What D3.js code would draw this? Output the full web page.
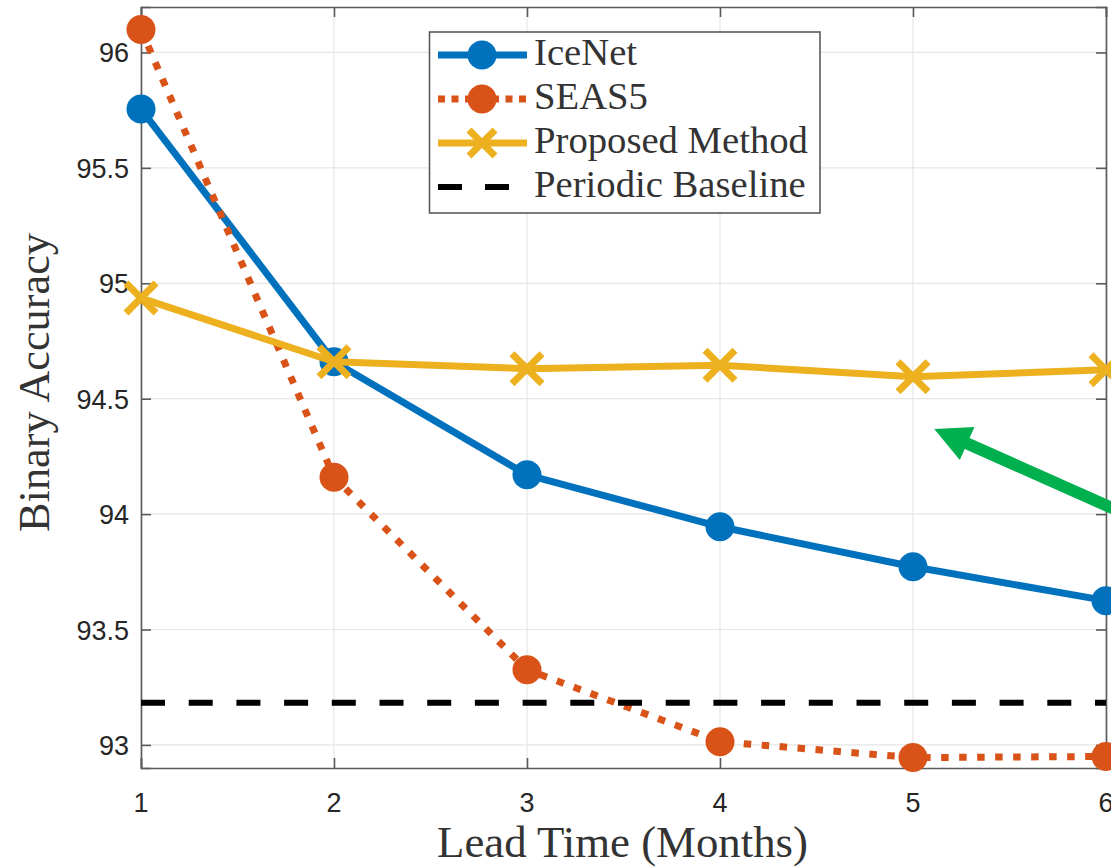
<!DOCTYPE html>
<html>
<head>
<meta charset="utf-8">
<script src="https://cdn.jsdelivr.net/npm/d3@7"></script>
<style>
  html, body { margin: 0; padding: 0; background: #fff; }
  svg { display: block; }
</style>
</head>
<body>
<svg id="chart" width="1111" height="868"></svg>
<script>
// ---------------- data ----------------
const leadTimes = [1, 2, 3, 4, 5, 6];
const iceNet   = [95.755, 94.66, 94.17, 93.945, 93.772, 93.625];
const seas5    = [96.10, 94.16, 93.326, 93.014, 92.945, 92.95];
const proposed = [94.936, 94.66, 94.63, 94.645, 94.595, 94.625];
const periodicBaseline = 93.183;
const xTicks = [1, 2, 3, 4, 5, 6];
const yTicks = [93, 93.5, 94, 94.5, 95, 95.5, 96];
const seriesNames = ["IceNet", "SEAS5", "Proposed Method", "Periodic Baseline"];
const xLabel = "Lead Time (Months)";
const yLabel = "Binary Accuracy";
// annotation arrow in data coordinates: [tail, tip]
const arrowTail = [6.13, 93.99];
const arrowTip  = [5.11, 94.369];

// ---------------- layout ----------------
const svg = d3.select("#chart");
const L = 141, R = 1106, T = 7, B = 768;
const x = d3.scaleLinear().domain([1, 6]).range([L, R]);
const y = d3.scaleLinear().domain([92.9, 96.197]).range([B, T]);

const BLUE = "#0072BD", ORANGE = "#D95319", YELLOW = "#EDB120";
const AXIS = "#5a5a5a", TXT = "#262626";
const SANS = "'Liberation Sans', Arial, Helvetica, sans-serif";
const SERIF = "'Liberation Serif', 'Times New Roman', serif";

// grid
const grid = svg.append("g");
grid.selectAll("line.gx").data(xTicks).join("line")
  .attr("x1", d => x(d)).attr("x2", d => x(d)).attr("y1", T).attr("y2", B)
  .attr("stroke", "#e6e6e6").attr("stroke-width", 1.2);
grid.selectAll("line.gy").data(yTicks).join("line")
  .attr("x1", L).attr("x2", R).attr("y1", d => y(d)).attr("y2", d => y(d))
  .attr("stroke", "#e6e6e6").attr("stroke-width", 1.2);

// axes (ticks inward)
const axB = svg.append("g").attr("transform", `translate(0,${B})`)
  .call(d3.axisTop(x).tickValues(xTicks).tickSize(10).tickFormat(""));
const axT = svg.append("g").attr("transform", `translate(0,${T})`)
  .call(d3.axisBottom(x).tickValues(xTicks).tickSize(10).tickFormat(""));
const axL = svg.append("g").attr("transform", `translate(${L},0)`)
  .call(d3.axisRight(y).tickValues(yTicks).tickSize(10).tickFormat(""));
const axR = svg.append("g").attr("transform", `translate(${R},0)`)
  .call(d3.axisLeft(y).tickValues(yTicks).tickSize(10).tickFormat(""));
[axB, axT, axL, axR].forEach(a => {
  a.selectAll("path.domain").attr("stroke", AXIS).attr("stroke-width", 1.6);
  a.selectAll(".tick line").attr("stroke", AXIS).attr("stroke-width", 1.6);
});
// tick labels
svg.append("g").selectAll("text").data(xTicks).join("text")
  .attr("x", d => x(d)).attr("y", 812)
  .attr("text-anchor", "middle").attr("font-family", SANS).attr("font-size", 27)
  .attr("fill", TXT).text(d => d);
svg.append("g").selectAll("text").data(yTicks).join("text")
  .attr("x", 129).attr("y", d => y(d) + 10)
  .attr("text-anchor", "end").attr("font-family", SANS).attr("font-size", 27)
  .attr("fill", TXT).text(d => d3.format("~g")(d));

function fitText(sel, width) {
  const w = sel.node().getComputedTextLength();
  const fs = parseFloat(sel.attr("font-size"));
  sel.attr("font-size", fs * width / w);
}

// axis labels
const xl = svg.append("text").attr("x", (437 + 808) / 2).attr("y", 857)
  .attr("text-anchor", "middle").attr("font-family", SERIF).attr("font-size", 40)
  .attr("fill", "#333").text(xLabel);
fitText(xl, 371);
const yl = svg.append("text")
  .attr("transform", `translate(49,${(233 + 532) / 2}) rotate(-90)`)
  .attr("text-anchor", "middle").attr("font-family", SERIF).attr("font-size", 40)
  .attr("fill", "#333").text(yLabel);
fitText(yl, 299);

// ---------------- series ----------------
const line = d3.line().x((d, i) => x(leadTimes[i])).y(d => y(d));
const plot = svg.append("g");

// IceNet
plot.append("path").datum(iceNet).attr("d", line)
  .attr("fill", "none").attr("stroke", BLUE).attr("stroke-width", 7).attr("stroke-linejoin", "round");
plot.append("g").selectAll("circle").data(iceNet).join("circle")
  .attr("cx", (d, i) => x(leadTimes[i])).attr("cy", d => y(d)).attr("r", 14.5).attr("fill", BLUE);

// SEAS5
plot.append("path").datum(seas5).attr("d", line)
  .attr("fill", "none").attr("stroke", ORANGE).attr("stroke-width", 7)
  .attr("stroke-dasharray", "7.5 10.5");
plot.append("g").selectAll("circle").data(seas5).join("circle")
  .attr("cx", (d, i) => x(leadTimes[i])).attr("cy", d => y(d)).attr("r", 14.5).attr("fill", ORANGE);

// Proposed
plot.append("path").datum(proposed).attr("d", line)
  .attr("fill", "none").attr("stroke", YELLOW).attr("stroke-width", 7).attr("stroke-linejoin", "round");
function xMarker(g, cx, cy, s, color) {
  g.append("path")
    .attr("d", `M${cx - s},${cy - s}L${cx + s},${cy + s}M${cx - s},${cy + s}L${cx + s},${cy - s}`)
    .attr("stroke", color).attr("stroke-width", 7).attr("fill", "none");
}
const pm = plot.append("g");
proposed.forEach((d, i) => xMarker(pm, x(leadTimes[i]), y(d), 15, YELLOW));

// Periodic baseline
plot.append("line").attr("x1", x(1)).attr("x2", x(6))
  .attr("y1", y(periodicBaseline)).attr("y2", y(periodicBaseline))
  .attr("stroke", "#000").attr("stroke-width", 6).attr("stroke-dasharray", "24 23.7");

// ---------------- legend ----------------
const lg = svg.append("g");
lg.append("rect").attr("x", 429.5).attr("y", 32).attr("width", 390.5).attr("height", 181)
  .attr("fill", "#fff").attr("stroke", AXIS).attr("stroke-width", 1.6);
const rowY = [55, 99, 143, 187];
const lx1 = 438, lx2 = 527, lmx = 482;
// IceNet
lg.append("line").attr("x1", lx1).attr("x2", lx2).attr("y1", rowY[0]).attr("y2", rowY[0])
  .attr("stroke", BLUE).attr("stroke-width", 7);
lg.append("circle").attr("cx", lmx).attr("cy", rowY[0]).attr("r", 14.5).attr("fill", BLUE);
// SEAS5
lg.append("line").attr("x1", lx1).attr("x2", lx2).attr("y1", rowY[1]).attr("y2", rowY[1])
  .attr("stroke", ORANGE).attr("stroke-width", 7).attr("stroke-dasharray", "7 6.5");
lg.append("circle").attr("cx", lmx).attr("cy", rowY[1]).attr("r", 14.5).attr("fill", ORANGE);
// Proposed
lg.append("line").attr("x1", lx1).attr("x2", lx2).attr("y1", rowY[2]).attr("y2", rowY[2])
  .attr("stroke", YELLOW).attr("stroke-width", 7);
xMarker(lg, lmx, rowY[2], 13, YELLOW);
// Baseline
lg.append("line").attr("x1", lx1).attr("x2", lx2).attr("y1", rowY[3]).attr("y2", rowY[3])
  .attr("stroke", "#000").attr("stroke-width", 6).attr("stroke-dasharray", "24 23");

const lt = lg.selectAll("text").data(seriesNames).join("text")
  .attr("x", 534).attr("y", (d, i) => rowY[i] + 10)
  .attr("font-family", SERIF).attr("font-size", 32).attr("fill", "#333").text(d => d);
{
  const w = lt.filter((d, i) => i === 2).node().getComputedTextLength();
  lt.attr("font-size", 32 * 274 / w);
}

// ---------------- annotation arrow ----------------
const GREEN = "#00B04F";
const tx = x(arrowTip[0]), ty = y(arrowTip[1]);
const sx = x(arrowTail[0]), sy = y(arrowTail[1]);
const dx = sx - tx, dy = sy - ty, len = Math.hypot(dx, dy);
const ux = dx / len, uy = dy / len;
const headLen = 36, headHalf = 18;
const bx = tx + ux * headLen, by = ty + uy * headLen;
svg.append("line").attr("x1", sx).attr("y1", sy).attr("x2", bx - ux * 3).attr("y2", by - uy * 3)
  .attr("stroke", GREEN).attr("stroke-width", 12);
svg.append("path")
  .attr("d", `M${tx},${ty}L${bx - uy * headHalf},${by + ux * headHalf}L${bx + uy * headHalf},${by - ux * headHalf}Z`)
  .attr("fill", GREEN);
</script>
</body>
</html>
